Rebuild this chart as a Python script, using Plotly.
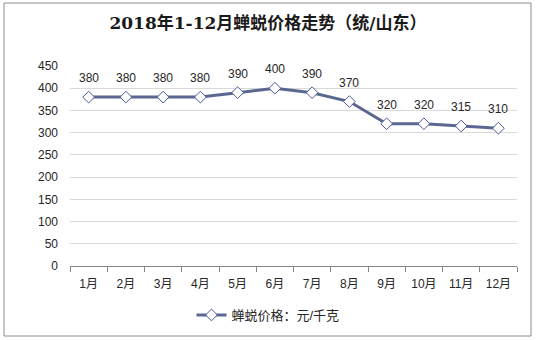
import plotly.graph_objects as go

months = ["1月", "2月", "3月", "4月", "5月", "6月", "7月", "8月", "9月", "10月", "11月", "12月"]
prices = [380, 380, 380, 380, 390, 400, 390, 370, 320, 320, 315, 310]
series_name = "蝉蜕价格：元/千克"
title_text = "2018年1-12月蝉蜕价格走势（统/山东）"
y_ticks = [0, 50, 100, 150, 200, 250, 300, 350, 400, 450]

W, H = 536, 340
L, R, T, B = 70, 19, 66, 74
pw, ph = W - L - R, H - T - B

font_fam = "Liberation Sans, Arial, Noto Sans CJK SC, sans-serif"

fig = go.Figure()
fig.add_trace(go.Scatter(
    x=months, y=prices, name=series_name,
    mode="lines+markers",
    line=dict(color="#5b6791", width=3),
    marker=dict(symbol="diamond", size=9, color="white",
                line=dict(color="#4a5a95", width=1)),
    cliponaxis=False,
))

for m, v in zip(months, prices):
    fig.add_annotation(x=m, y=v, text=str(v), showarrow=False, yshift=19,
                       font=dict(size=12, color="#262626", family=font_fam))

def px_x(p):
    return (p - L) / pw

def px_y(p):
    return (H - B - p) / ph

fig.add_shape(type="rect", xref="paper", yref="paper",
              x0=px_x(4), x1=px_x(531), y0=px_y(336), y1=px_y(3),
              line=dict(color="#8c8c8c", width=1), fillcolor="rgba(0,0,0,0)", layer="below")

fig.update_layout(
    width=W, height=H,
    margin=dict(l=L, r=R, t=T, b=B, autoexpand=False),
    paper_bgcolor="white", plot_bgcolor="white",
    title=dict(text="<b>" + title_text + "</b>", x=0.5, xref="container", xanchor="center",
               y=1 - 23 / H, yref="container", yanchor="middle",
               font=dict(size=17, color="#1a1a1a", family="DejaVu Serif, Noto Sans CJK SC, serif")),
    showlegend=True,
    legend=dict(orientation="h", x=268 / W, xref="container", xanchor="center",
                y=1 - 315 / H, yref="container", yanchor="middle",
                font=dict(size=13, color="#262626", family=font_fam),
                bgcolor="rgba(0,0,0,0)", itemwidth=30),
    xaxis=dict(
        type="category", showgrid=False, showline=True, linecolor="#868686", linewidth=1,
        ticks="outside", ticklen=5, tickcolor="#868686", tickson="boundaries",
        ticklabelstandoff=7,
        tickfont=dict(size=12, color="#262626", family=font_fam),
        range=[-0.5, 11.5],
    ),
    yaxis=dict(
        range=[0, 450], tickvals=y_ticks, showgrid=True, gridcolor="#d9d9d9", gridwidth=1,
        zeroline=False, showline=False, ticks="", ticklabelstandoff=11,
        tickfont=dict(size=12, color="#262626", family=font_fam),
    ),
)

fig.write_html("out.html")
